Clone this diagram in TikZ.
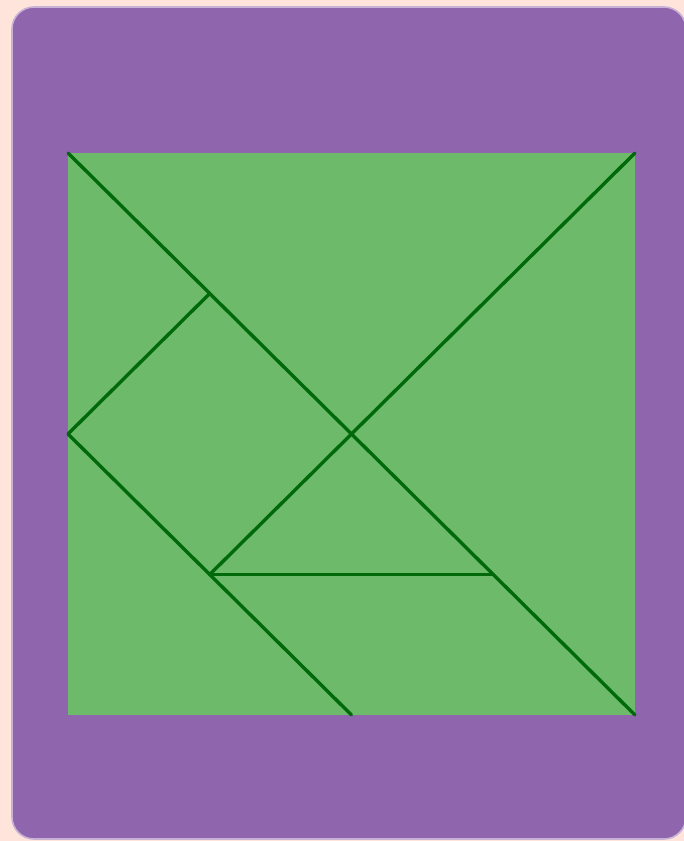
\documentclass[tikz,border=0pt]{standalone}
\usepackage{tikz}
\usetikzlibrary{calc}
\definecolor{bgcolor}{RGB}{255, 228, 220}
\definecolor{boardcolor}{RGB}{143, 102, 174}
\definecolor{piececolor}{RGB}{108, 186, 106}
\definecolor{edgecolor}{RGB}{0, 105, 10}
\tikzset{
board/.style={
  fill=boardcolor,
  draw=boardcolor!50!white,
  line width=0.8pt,
  rounded corners=11pt
},
pieces/.style={
  fill=piececolor,
  draw=none
},
cut/.style={
  draw=edgecolor,
  line width=1.7pt,
  line cap=round
}
}
\begin{document}
\begin{tikzpicture}[x=0.5pt, y=-0.5pt]

% ============================================================================
% FUNDO
% ============================================================================
\fill[bgcolor] (0, 0) rectangle (684, 841);
\useasboundingbox (0, 0) rectangle (684, 841);

% ============================================================================
% TABULEIRO
% ============================================================================
\path[board] (12, 7) rectangle (686, 839);

% ============================================================================
% QUADRADO DO TANGRAM
% ============================================================================
\coordinate (tl) at (68, 153);
\coordinate (tr) at (635, 153);
\coordinate (br) at (635, 715);
\coordinate (bl) at (68, 715);
\fill[pieces] (tl) -- (tr) -- (br) -- (bl) -- cycle;

\coordinate (center) at ($(tl)!0.5!(br)$);
\coordinate (quarter) at ($(tl)!0.5!(center)$);
\coordinate (leftmid) at ($(tl)!0.5!(bl)$);
\coordinate (bottommid) at ($(bl)!0.5!(br)$);
\coordinate (innerleft) at ($(leftmid)!0.5!(bottommid)$);
\coordinate (innerright) at ($(center)!0.5!(br)$);

% cortes entre as peças
\draw[cut] (tl) -- (br);
\draw[cut] (tr) -- (center);
\draw[cut] (quarter) -- (leftmid);
\draw[cut] (leftmid) -- (bottommid);
\draw[cut] (center) -- (innerleft);
\draw[cut] (innerleft) -- (innerright);

\end{tikzpicture}
\end{document}
